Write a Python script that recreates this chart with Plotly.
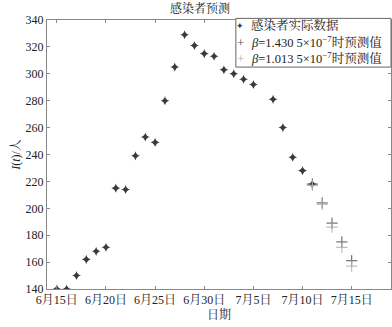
import plotly.graph_objects as go

# Actual infected data
actual_dates = ["2020-06-15", "2020-06-16", "2020-06-17", "2020-06-18", "2020-06-19",
                "2020-06-20", "2020-06-21", "2020-06-22", "2020-06-23", "2020-06-24",
                "2020-06-25", "2020-06-26", "2020-06-27", "2020-06-28", "2020-06-29",
                "2020-06-30", "2020-07-01", "2020-07-02", "2020-07-03", "2020-07-04",
                "2020-07-05", "2020-07-07", "2020-07-08", "2020-07-09", "2020-07-10",
                "2020-07-11"]
actual_values = [140, 140, 150, 162, 168, 171, 215, 214, 239, 253,
                 249, 280, 305, 329, 321, 315, 313, 303, 300, 296,
                 292, 281, 260, 238, 228, 218]

pred_dates = ["2020-07-11", "2020-07-12", "2020-07-13", "2020-07-14", "2020-07-15"]
pred_high = [218, 204, 189, 175, 161]   # beta = 1.4305e-7
pred_low = [217, 203, 186, 171, 157]    # beta = 1.0135e-7

series_names = ["感染者实际数据",
                "<i>β</i>=1.430 5×10<sup>−7</sup>时预测值",
                "<i>β</i>=1.013 5×10<sup>−7</sup>时预测值"]
series_colors = ["#3a3a3a", "#555555", "#b0b0b0"]
legend_glyphs = ["✦", "+", "+"]

tick_vals = ["2020-06-15", "2020-06-20", "2020-06-25", "2020-06-30",
             "2020-07-05", "2020-07-10", "2020-07-15"]
tick_text = ["6月15日", "6月20日", "6月25日", "6月30日", "7月5日", "7月10日", "7月15日"]
y_ticks = [140, 160, 180, 200, 220, 240, 260, 280, 300, 320, 340]

FONT = "Liberation Serif, Times New Roman, Noto Serif CJK SC, Noto Sans CJK SC, serif"

fig = go.Figure()
fig.add_trace(go.Scatter(
    x=actual_dates, y=actual_values, mode="markers", name=series_names[0],
    marker=dict(symbol="star-diamond", size=6.5, color=series_colors[0],
                line=dict(width=0))))
fig.add_trace(go.Scatter(
    x=pred_dates, y=pred_high, mode="markers", name=series_names[1],
    marker=dict(symbol="cross-thin-open", size=8, color=series_colors[1],
                line=dict(width=1, color=series_colors[1]))))
fig.add_trace(go.Scatter(
    x=pred_dates, y=pred_low, mode="markers", name=series_names[2],
    marker=dict(symbol="cross-thin-open", size=8, color=series_colors[2],
                line=dict(width=1, color=series_colors[2]))))

# Compact legend box (drawn as shape + text, like the MATLAB legend)
fig.add_shape(type="rect", xref="paper", yref="paper", x0=0.549, x1=1.0,
              y0=0.825, y1=1.006, line=dict(color="#666", width=1), fillcolor="white",
              layer="above")
row_y = [0.979, 0.918, 0.857]
for i in range(3):
    fig.add_annotation(xref="paper", yref="paper", x=0.562, y=row_y[i],
                       text=legend_glyphs[i], showarrow=False, xanchor="center",
                       yanchor="middle",
                       font=dict(size=9 if i == 0 else 13, color=series_colors[i],
                                 family="DejaVu Sans" if i == 0 else FONT))
    fig.add_annotation(xref="paper", yref="paper", x=0.587, y=row_y[i],
                       text=series_names[i], showarrow=False, xanchor="left",
                       yanchor="middle", font=dict(size=12.5, color="#222", family=FONT))

axis_common = dict(showgrid=False, zeroline=False, showline=True, linecolor="#888",
                   linewidth=1, mirror="ticks", ticks="inside", ticklen=3,
                   tickcolor="#888", tickfont=dict(size=12, color="#222", family=FONT))

fig.update_layout(
    width=392, height=327,
    margin=dict(l=47, r=1, t=20, b=38),
    paper_bgcolor="white", plot_bgcolor="white",
    font=dict(family=FONT, color="#222", size=12),
    title=dict(text="感染者预测", x=0.51, xref="container", xanchor="center",
               y=0.985, yref="container", yanchor="top",
               font=dict(size=12, family=FONT, color="#222")),
    showlegend=False,
    xaxis=dict(type="date", range=["2020-06-14", "2020-07-19"],
               tickvals=tick_vals, ticktext=tick_text,
               title=dict(text="日期", standoff=4, font=dict(size=12, family=FONT)),
               **axis_common),
    yaxis=dict(range=[140, 340], tickvals=y_ticks,
               title=dict(text="<i>I</i>(<i>t</i>)/人", standoff=2,
                          font=dict(size=12, family=FONT)),
               **axis_common),
)

fig.write_html("out.html")
